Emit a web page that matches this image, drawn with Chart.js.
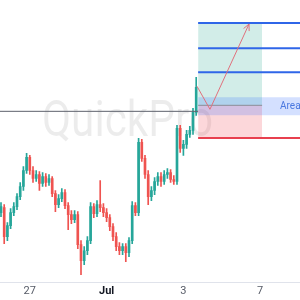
<!DOCTYPE html>
<html>
<head>
<meta charset="utf-8">
<script src="https://cdn.jsdelivr.net/npm/chart.js@4"></script>
<style>
  body { margin: 0; background: #fff; }
</style>
</head>
<body>
<canvas id="chart" width="300" height="300"></canvas>
<script>
// candles (4h), index on the x axis
const opens  = [70,75,46,57,70,76,86,96,112,125,112,104,108,99,106,100,104,89,78,84,90,77,68,63,68,38,22,32,42,76,69,78,75,70,65,56,46,36,32,36,30,42,77,70,140,124,108,86,92,101,106,101,108,110,103,101,154,134,138,148,152,170];
const closes = [76,46,57,70,76,86,96,112,125,112,104,108,99,106,100,104,89,78,84,90,77,68,63,68,38,22,32,42,76,69,78,75,70,65,56,46,36,32,36,30,42,77,70,140,124,108,86,92,101,106,101,108,110,103,101,154,134,138,148,152,170,195];
const highs  = [80,78,60,74,80,89,100,116,129,127,116,112,111,110,109,108,106,92,88,94,93,80,72,72,71,42,36,46,80,79,82,102,79,74,68,59,50,40,39,39,45,81,80,144,143,127,112,96,105,110,110,112,114,113,107,157,157,142,152,156,174,205];
const lows   = [66,39,42,54,67,73,83,92,109,108,100,101,92,96,96,97,86,71,75,81,74,53,59,60,34,8,18,28,39,65,66,71,66,61,52,42,32,28,28,21,26,39,67,67,121,104,78,82,88,97,96,98,104,100,98,98,130,127,134,145,148,167];

const tickIdx = [9, 33, 57, 81];
const tickLabels = ['27', 'Jul', '3', '7'];

// trade setup
const rayLevel = 171;
const entryLevel = 177;
const targetLevels = [259, 234, 210];
const stopLevel = 144.5;
const areaBand = [167, 185];
const boxStart = 61.6;
const boxEnd = 81.6;
const tradeX = [61.25, 65.3, 77.5];
const tradeY = [196, 173, 258];

const xMin = -0.3125, xMax = 93.4375;
const up = '#26a69a', down = '#ef5350';
const candleColors = closes.map((c, i) => c >= opens[i] ? up : down);

function seg(x0, x1, y) {
  return [{x: x0, y: y}, {x: x1, y: y}];
}

const extras = {
  id: 'extras',
  beforeDatasetsDraw(chart) {
    const ctx = chart.ctx;
    ctx.save();
    ctx.font = '50px Roboto';
    const w = ctx.measureText('QuickPro').width;
    ctx.translate(42, 136);
    ctx.scale(171 / w, 1);
    ctx.fillStyle = 'rgba(0,0,0,0.075)';
    ctx.textBaseline = 'alphabetic';
    ctx.fillText('QuickPro', 0, 0);
    ctx.restore();
  },
  afterDatasetsDraw(chart) {
    const ctx = chart.ctx;
    const xs = chart.scales.x, ys = chart.scales.y;
    // arrow head
    const px = xs.getPixelForValue(tradeX[2]), py = ys.getPixelForValue(tradeY[2]);
    const qx = xs.getPixelForValue(tradeX[1]), qy = ys.getPixelForValue(tradeY[1]);
    const a = Math.atan2(py - qy, px - qx);
    ctx.save();
    ctx.strokeStyle = '#e0707c';
    ctx.lineWidth = 1;
    ctx.beginPath();
    ctx.moveTo(px - 7 * Math.cos(a - 0.45), py - 7 * Math.sin(a - 0.45));
    ctx.lineTo(px, py);
    ctx.lineTo(px - 7 * Math.cos(a + 0.45), py - 7 * Math.sin(a + 0.45));
    ctx.stroke();
    // label
    ctx.fillStyle = '#4a78e0';
    ctx.font = '10px Roboto';
    ctx.textBaseline = 'middle';
    ctx.fillText('Area', xs.getPixelForValue(87.2), ys.getPixelForValue((areaBand[0] + areaBand[1]) / 2));
    ctx.restore();
  }
};

const lineStyle = {type: 'line', pointRadius: 0, fill: false};

new Chart(document.getElementById('chart'), {
  type: 'bar',
  data: {
    datasets: [
      Object.assign({}, lineStyle, {data: tradeX.map((x, i) => ({x: x, y: tradeY[i]})), borderColor: '#e0707c', borderWidth: 1, order: 0}),
      ...targetLevels.map(v => Object.assign({}, lineStyle, {data: seg(boxStart, xMax, v), borderColor: '#2f66e8', borderWidth: 2, order: 1})),
      Object.assign({}, lineStyle, {data: seg(boxStart, xMax, stopLevel), borderColor: '#e8404f', borderWidth: 2, order: 1}),
      Object.assign({}, lineStyle, {data: seg(boxStart, boxEnd, entryLevel), borderColor: '#8a8d96', borderWidth: 1, order: 1}),
      Object.assign({}, lineStyle, {data: seg(xMin, boxStart, rayLevel), borderColor: '#5d606b', borderWidth: 1, order: 1}),
      Object.assign({}, lineStyle, {data: seg(boxStart, xMax, areaBand[1]), borderWidth: 0, fill: {value: areaBand[0]}, backgroundColor: 'rgba(41,98,255,0.2)', order: 2}),
      Object.assign({}, lineStyle, {data: seg(boxStart, boxEnd, targetLevels[0]), borderWidth: 0, fill: {value: entryLevel}, backgroundColor: 'rgba(8,153,129,0.18)', order: 3}),
      Object.assign({}, lineStyle, {data: seg(boxStart, boxEnd, entryLevel), borderWidth: 0, fill: {value: stopLevel}, backgroundColor: 'rgba(242,54,69,0.2)', order: 3}),
      {
        type: 'bar',
        data: opens.map((o, i) => ({x: i, y: [o, closes[i]]})),
        backgroundColor: candleColors,
        barThickness: 2,
        minBarLength: 1,
        grouped: false,
        order: 4
      },
      {
        type: 'bar',
        data: lows.map((l, i) => ({x: i, y: [l, highs[i]]})),
        backgroundColor: candleColors,
        barThickness: 1,
        grouped: false,
        order: 5
      }
    ]
  },
  options: {
    responsive: false,
    animation: false,
    layout: {padding: 0},
    plugins: {legend: {display: false}, tooltip: {enabled: false}},
    scales: {
      x: {
        type: 'linear',
        offset: false,
        min: xMin,
        max: xMax,
        grid: {display: false, drawTicks: false},
        border: {display: true, color: '#e0e3eb'},
        afterBuildTicks: s => { s.ticks = tickIdx.map(v => ({value: v})); },
        ticks: {
          autoSkip: false,
          maxRotation: 0,
          padding: 2,
          callback: v => tickLabels[tickIdx.indexOf(v)],
          color: c => (c.tick && c.tick.label === 'Jul') ? '#131722' : '#555a66',
          font: c => ({family: 'Roboto', size: 11, weight: (c.tick && c.tick.label === 'Jul') ? 'bold' : 'normal'})
        }
      },
      y: {
        display: false,
        min: 0,
        max: 282
      }
    }
  },
  plugins: [extras]
});
</script>
</body>
</html>
